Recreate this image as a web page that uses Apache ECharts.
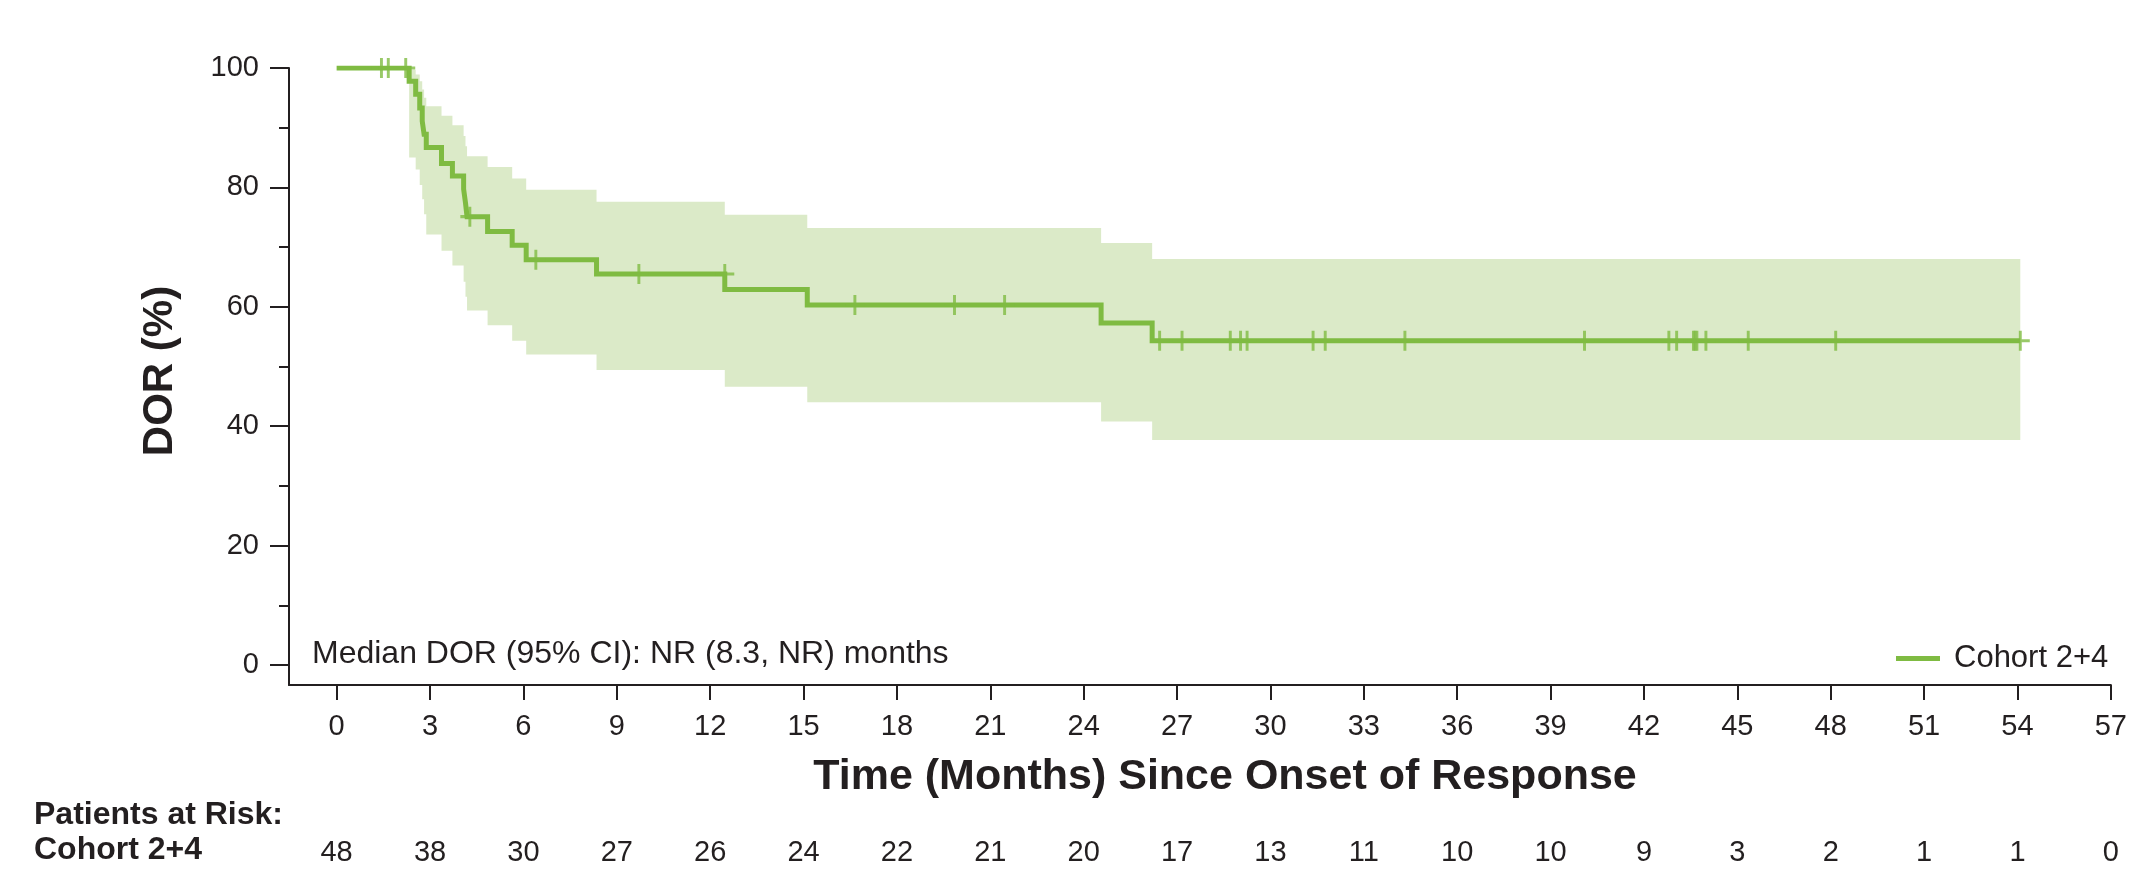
<!DOCTYPE html>
<html>
<head>
<meta charset="utf-8">
<title>Duration of Response – Cohort 2+4</title>
<script src="https://cdn.jsdelivr.net/npm/echarts@6/dist/echarts.min.js"></script>
<style>
  html, body { margin: 0; padding: 0; background: #ffffff; }
  #chart { width: 2130px; height: 882px; }
</style>
</head>
<body>
<div id="chart"></div>
<script>
// Kaplan–Meier step points: time of each step (months) and DOR estimate (%)
const months = [0, 2.33, 2.54, 2.67, 2.75, 2.81, 2.88, 3.37, 3.72, 4.08, 4.14, 4.19, 4.85, 5.64, 6.09, 8.35, 12.47, 15.12, 24.56, 26.20, 54.09];
const dor    = [100, 97.8, 95.6, 93.3, 91.1, 88.9, 86.7, 84.0, 81.9, 79.7, 77.4, 75.1, 72.6, 70.3, 67.9, 65.5, 62.9, 60.3, 57.3, 54.3, 54.3];
// 95% confidence band at the same step times
const ciLower = [100, 85.0, 83.0, 80.4, 78.0, 75.5, 72.1, 69.4, 66.9, 64.2, 61.7, 59.4, 56.9, 54.3, 52.0, 49.4, 46.6, 44.0, 40.8, 37.7, 37.7];
const ciUpper = [100, 99.7, 98.9, 97.8, 96.4, 95.0, 93.6, 92.0, 90.4, 88.6, 86.9, 85.2, 83.4, 81.5, 79.6, 77.6, 75.4, 73.2, 70.7, 68.0, 68.0];
// Censored observations (months)
const censorMonths = [1.44, 1.66, 2.22, 4.28, 6.40, 9.71, 12.47, 16.65, 19.85, 21.46, 26.44, 27.16, 28.71, 29.04, 29.25, 31.37, 31.76, 34.32, 40.09, 42.80, 43.05, 43.59, 43.64, 43.70, 43.99, 45.35, 48.16, 54.09];
// Axis ticks
const xTicks = [0, 3, 6, 9, 12, 15, 18, 21, 24, 27, 30, 33, 36, 39, 42, 45, 48, 51, 54, 57];
const yTicks = [0, 20, 40, 60, 80, 100];
const yMinorTicks = [10, 30, 50, 70, 90];
// Patients at risk at each x tick
const atRisk = [48, 38, 30, 27, 26, 24, 22, 21, 20, 17, 13, 11, 10, 10, 9, 3, 2, 1, 1, 0];

const seriesName = 'Cohort 2+4';
const GREEN = '#7fbb42';
const BAND = '#dbeac8';
const INK = '#231f20';
const FONT = '"Liberation Sans", Arial, Helvetica, sans-serif';

// Estimate just before time t (a censor at an event time sits on the upper level)
function estimateBefore(t) {
  let v = dor[0];
  for (let i = 0; i < months.length; i++) {
    if (months[i] < t) v = dor[i];
  }
  return v;
}

const curveData = months.map((t, i) => [t, dor[i]]);
// band starts at the first event
const bandData = months.map((t, i) => [t, ciLower[i], ciUpper[i]]).slice(1);
const censorData = censorMonths.map(t => [t, estimateBefore(t)]);

const X_MIN = -1.53, X_MAX = 57;
const Y_MIN = -3.35, Y_MAX = 100;

// Stepped confidence band drawn as one polygon through the axis scales
function renderBand(params, api) {
  if (params.dataIndex !== 0) return null;
  const upper = [], lower = [];
  for (let i = 0; i < bandData.length; i++) {
    const [t, lo, hi] = bandData[i];
    const tNext = i + 1 < bandData.length ? bandData[i + 1][0] : t;
    upper.push(api.coord([t, hi]), api.coord([tNext, hi]));
    lower.push(api.coord([t, lo]), api.coord([tNext, lo]));
  }
  const points = upper.concat(lower.reverse());
  return {
    type: 'polygon',
    shape: { points: points },
    style: { fill: BAND, stroke: null },
    silent: true
  };
}

const chart = echarts.init(document.getElementById('chart'), null, { renderer: 'canvas' });

chart.setOption({
  animation: false,
  backgroundColor: '#ffffff',
  textStyle: { fontFamily: FONT, color: INK },
  grid: { left: 289, right: 17, top: 68, bottom: 197, containLabel: false },
  xAxis: [
    {
      type: 'value', min: X_MIN, max: X_MAX,
      axisLine: { show: true, onZero: false, lineStyle: { color: INK, width: 2 } },
      axisTick: { show: true, customValues: xTicks, length: 15, lineStyle: { color: INK, width: 2 } },
      axisLabel: { customValues: xTicks, fontSize: 29, color: INK, margin: 27, fontFamily: FONT },
      splitLine: { show: false }
    },
    {
      // patients-at-risk row, aligned with the time ticks
      type: 'value', min: X_MIN, max: X_MAX, position: 'bottom', offset: 152,
      axisLine: { show: false, onZero: false }, axisTick: { show: false }, splitLine: { show: false },
      axisLabel: {
        customValues: xTicks, fontSize: 29, color: INK, margin: 1, fontFamily: FONT,
        formatter: v => String(atRisk[Math.round(v / 3)])
      }
    }
  ],
  yAxis: [
    {
      type: 'value', min: Y_MIN, max: Y_MAX,
      axisLine: { show: true, onZero: false, lineStyle: { color: INK, width: 2 } },
      axisTick: { show: true, customValues: yTicks, length: 19, lineStyle: { color: INK, width: 2 } },
      axisLabel: { customValues: yTicks, fontSize: 29, color: INK, margin: 30, fontFamily: FONT },
      splitLine: { show: false }
    },
    {
      type: 'value', min: Y_MIN, max: Y_MAX, position: 'left',
      axisLine: { show: false, onZero: false },
      axisTick: { show: true, customValues: yMinorTicks, length: 10, lineStyle: { color: INK, width: 2 } },
      axisLabel: { show: false },
      splitLine: { show: false }
    }
  ],
  legend: {
    data: [seriesName],
    left: 1896, top: 643, padding: 0,
    icon: 'rect', itemWidth: 44, itemHeight: 5,
    textStyle: { fontSize: 31, color: INK, fontFamily: FONT, padding: [0, 0, 0, 9] },
    selectedMode: false
  },
  series: [
    {
      name: 'ci-band', type: 'custom', renderItem: renderBand,
      data: bandData, encode: { x: 0, y: [1, 2] }, silent: true, z: 1, clip: true
    },
    {
      name: seriesName, type: 'line', step: 'end',
      data: curveData, symbol: 'none', color: GREEN,
      lineStyle: { color: GREEN, width: 5, cap: 'butt', join: 'miter' }, z: 3
    },
    {
      name: 'censored', type: 'scatter', data: censorData,
      symbol: 'path://M10,0L10,20M0,10L20,10', symbolSize: [19, 20],
      itemStyle: { color: 'rgba(0,0,0,0)', borderColor: GREEN, borderWidth: 3 },
      silent: true, z: 4
    }
  ],
  graphic: [
    {
      type: 'text', x: 160, y: 371, rotation: Math.PI / 2,
      style: { text: 'DOR (%)', font: 'bold 42px ' + FONT, fill: INK, align: 'center', verticalAlign: 'middle' }
    },
    {
      type: 'text', x: 1225, y: 777,
      style: { text: 'Time (Months) Since Onset of Response', font: 'bold 43px ' + FONT, fill: INK, align: 'center', verticalAlign: 'middle' }
    },
    {
      type: 'text', x: 312, y: 654,
      style: { text: 'Median DOR (95% CI): NR (8.3, NR) months', font: '32px ' + FONT, fill: INK, align: 'left', verticalAlign: 'middle' }
    },
    {
      type: 'text', x: 34, y: 815,
      style: { text: 'Patients at Risk:', font: 'bold 32px ' + FONT, fill: INK, align: 'left', verticalAlign: 'middle' }
    },
    {
      type: 'text', x: 34, y: 850,
      style: { text: 'Cohort 2+4', font: 'bold 32px ' + FONT, fill: INK, align: 'left', verticalAlign: 'middle' }
    }
  ]
});
</script>
</body>
</html>
